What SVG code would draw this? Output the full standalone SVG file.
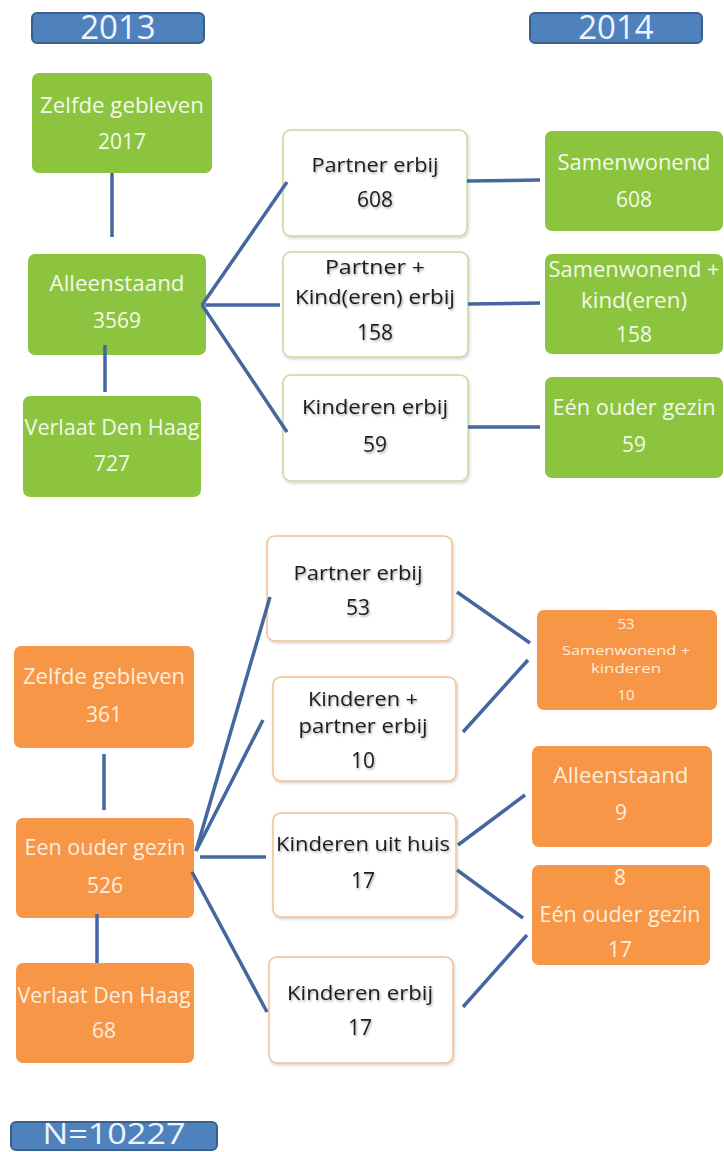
<svg xmlns="http://www.w3.org/2000/svg" width="724" height="1152" viewBox="0 0 724 1152">
<defs>
<filter id="tsh" x="-10%" y="-30%" width="120%" height="170%">
<feDropShadow dx="1" dy="1.5" stdDeviation="1.2" flood-color="#000" flood-opacity="0.35"/>
</filter>
<filter id="bsh" x="-5%" y="-5%" width="112%" height="115%">
<feDropShadow dx="1" dy="1.5" stdDeviation="1.5" flood-color="#000" flood-opacity="0.18"/>
</filter>
</defs>
<style>
text{font-family:"Open Sans","Liberation Sans",sans-serif;text-anchor:middle}
.hdr rect{fill:#4f81bd;stroke:#3a5f8c;stroke-width:2}
.hdr text{fill:#eef4fb;font-size:33px}
.green rect{fill:#8cc43f}
.green text{fill:#f2f9e8;font-size:21px}
.orange rect{fill:#f79646}
.orange text{fill:#fdeede;font-size:21px}
.mid rect{fill:#fff;stroke-width:1.5;filter:url(#bsh)}
.mid text{fill:#1e1e1e;font-size:20px;filter:url(#tsh)}
.mid .num{font-size:21px}
.mg rect{stroke:#c2dd9c}
.mo rect{stroke:#f4c08e}
.orange .small{font-size:13px}
.orange .snum{font-size:15px}
.conn line{stroke:#4467a0;stroke-width:3.5;fill:none}
</style>

<g id="h2013" class="hdr"><rect x="32" y="13" width="172" height="30" rx="5"/><text x="118" y="39">2013</text></g>
<g id="h2014" class="hdr"><rect x="530" y="13" width="172" height="30" rx="5"/><text x="616" y="39">2014</text></g>

<g id="g_zelfde" class="green"><rect x="32" y="73" width="180" height="100" rx="7"/>
<text x="122" y="113" textLength="164" lengthAdjust="spacingAndGlyphs">Zelfde gebleven</text><text x="122" y="149">2017</text></g>
<g id="g_alleen" class="green"><rect x="28" y="254" width="178" height="101" rx="7"/>
<text x="117" y="291" textLength="135" lengthAdjust="spacingAndGlyphs">Alleenstaand</text><text x="117" y="328">3569</text></g>
<g id="g_verlaat" class="green"><rect x="23" y="396" width="178" height="101" rx="7"/>
<text x="112" y="435" textLength="175" lengthAdjust="spacingAndGlyphs">Verlaat Den Haag</text><text x="112" y="471">727</text></g>

<g id="m_partner" class="mid mg"><rect x="283" y="130" width="184" height="106" rx="8"/>
<text x="375" y="172" textLength="127" lengthAdjust="spacingAndGlyphs">Partner erbij</text><text class="num" x="375" y="207">608</text></g>
<g id="m_partnerkind" class="mid mg"><rect x="283" y="252" width="185" height="105" rx="8"/>
<text x="375" y="274" textLength="100" lengthAdjust="spacingAndGlyphs">Partner +</text>
<text x="375" y="304" textLength="160" lengthAdjust="spacingAndGlyphs">Kind(eren) erbij</text><text class="num" x="375" y="340">158</text></g>
<g id="m_kinderen" class="mid mg"><rect x="283" y="375" width="185" height="106" rx="8"/>
<text x="375" y="414" textLength="146" lengthAdjust="spacingAndGlyphs">Kinderen erbij</text><text class="num" x="375" y="452">59</text></g>

<g id="r_samen" class="green"><rect x="545" y="131" width="178" height="100" rx="7"/>
<text x="634" y="170" textLength="153" lengthAdjust="spacingAndGlyphs">Samenwonend</text><text x="634" y="207">608</text></g>
<g id="r_samenkind" class="green"><rect x="545" y="254" width="178" height="100" rx="7"/>
<text x="634" y="277" textLength="171" lengthAdjust="spacingAndGlyphs">Samenwonend +</text>
<text x="634" y="308" textLength="106" lengthAdjust="spacingAndGlyphs">kind(eren)</text><text x="634" y="342">158</text></g>
<g id="r_eenouder" class="green"><rect x="545" y="377" width="178" height="101" rx="7"/>
<text x="634" y="415" textLength="163" lengthAdjust="spacingAndGlyphs">Eén ouder gezin</text><text x="634" y="452">59</text></g>

<g id="o_zelfde" class="orange"><rect x="14" y="646" width="180" height="102" rx="7"/>
<text x="104" y="684" textLength="162" lengthAdjust="spacingAndGlyphs">Zelfde gebleven</text><text x="104" y="722">361</text></g>
<g id="o_eenouder" class="orange"><rect x="16" y="818" width="178" height="100" rx="7"/>
<text x="105" y="855" textLength="161" lengthAdjust="spacingAndGlyphs">Een ouder gezin</text><text x="105" y="893">526</text></g>
<g id="o_verlaat" class="orange"><rect x="16" y="963" width="178" height="100" rx="7"/>
<text x="104" y="1003" textLength="173" lengthAdjust="spacingAndGlyphs">Verlaat Den Haag</text><text x="104" y="1038">68</text></g>

<g id="b_partner" class="mid mo"><rect x="267" y="536" width="185" height="105" rx="8"/>
<text x="358" y="580" textLength="129" lengthAdjust="spacingAndGlyphs">Partner erbij</text><text class="num" x="358" y="615">53</text></g>
<g id="b_kindpartner" class="mid mo"><rect x="273" y="677" width="183" height="104" rx="8"/>
<text x="363" y="706" textLength="110" lengthAdjust="spacingAndGlyphs">Kinderen +</text>
<text x="363" y="733" textLength="129" lengthAdjust="spacingAndGlyphs">partner erbij</text><text class="num" x="363" y="768">10</text></g>
<g id="b_uithuis" class="mid mo"><rect x="273" y="813" width="183" height="104" rx="8"/>
<text x="363" y="851" textLength="174" lengthAdjust="spacingAndGlyphs">Kinderen uit huis</text><text class="num" x="363" y="888">17</text></g>
<g id="b_kinderen" class="mid mo"><rect x="269" y="957" width="184" height="106" rx="8"/>
<text x="360" y="1000" textLength="146" lengthAdjust="spacingAndGlyphs">Kinderen erbij</text><text class="num" x="360" y="1035">17</text></g>

<g id="s_samenkind" class="orange"><rect x="537" y="610" width="180" height="100" rx="7"/>
<text class="snum" x="626" y="629">53</text>
<text class="small" x="626" y="655" textLength="128" lengthAdjust="spacingAndGlyphs">Samenwonend +</text>
<text class="small" x="626" y="673" textLength="70" lengthAdjust="spacingAndGlyphs">kinderen</text>
<text class="snum" x="626" y="700">10</text></g>
<g id="s_alleen" class="orange"><rect x="532" y="746" width="180" height="101" rx="7"/>
<text x="621" y="783" textLength="135" lengthAdjust="spacingAndGlyphs">Alleenstaand</text><text x="621" y="820">9</text></g>
<g id="s_eenouder" class="orange"><rect x="532" y="865" width="178" height="100" rx="7"/>
<text x="620" y="885">8</text>
<text x="620" y="922" textLength="161" lengthAdjust="spacingAndGlyphs">Eén ouder gezin</text><text x="620" y="957">17</text></g>

<g id="nfoot" class="hdr"><rect x="11" y="1122" width="206" height="28" rx="5"/><text x="114" y="1144" style="font-size:29px" textLength="143" lengthAdjust="spacingAndGlyphs">N=10227</text></g>

<g id="connectors" class="conn">
<line x1="112" y1="173" x2="112" y2="237"/>
<line x1="105" y1="345" x2="105" y2="392"/>
<line x1="202" y1="305" x2="287" y2="182"/>
<line x1="206" y1="305" x2="280" y2="305"/>
<line x1="202" y1="305" x2="287" y2="432"/>
<line x1="467" y1="181" x2="540" y2="180"/>
<line x1="468" y1="304" x2="540" y2="303"/>
<line x1="468" y1="427" x2="540" y2="427"/>
<line x1="104" y1="754" x2="104" y2="810"/>
<line x1="97" y1="914" x2="97" y2="963"/>
<line x1="196" y1="851" x2="270" y2="597"/>
<line x1="196" y1="851" x2="263" y2="720"/>
<line x1="200" y1="857" x2="266" y2="857"/>
<line x1="192" y1="872" x2="267" y2="1012"/>
<line x1="457" y1="592" x2="530" y2="643"/>
<line x1="463" y1="732" x2="528" y2="660"/>
<line x1="458" y1="845" x2="525" y2="795"/>
<line x1="457" y1="870" x2="523" y2="918"/>
<line x1="463" y1="1007" x2="527" y2="935"/>
</g>
</svg>
